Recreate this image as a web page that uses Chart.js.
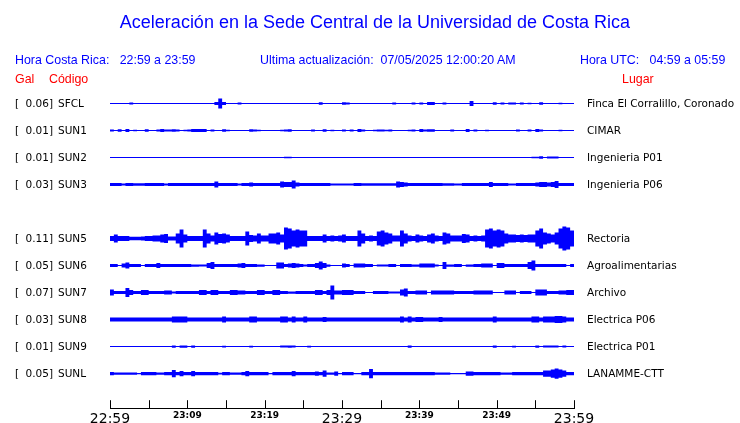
<!DOCTYPE html>
<html>
<head>
<meta charset="utf-8">
<script src="https://cdn.jsdelivr.net/npm/chart.js@4"></script>
<style>
  body { margin: 0; background: #fff; }
  #wrap { position: relative; width: 740px; height: 423px; overflow: hidden; }
  canvas { position: absolute; left: 0; top: 0; }
  .t { position: absolute; white-space: pre; font-family: "Liberation Sans", Arial, sans-serif; line-height: 1; }
  .blue { color: #0000ff; }
  .red { color: #ff0000; }
</style>
</head>
<body>
<div id="wrap">
  <canvas id="chart" width="740" height="423"></canvas>
  <div class="t blue" style="left:5px;width:740px;text-align:center;top:13px;font-size:18px;">Aceleración en la Sede Central de la Universidad de Costa Rica</div>
  <div class="t blue" style="left:15px;top:54px;font-size:12.4px;">Hora Costa Rica:   22:59 a 23:59</div>
  <div class="t blue" style="left:260px;top:54px;font-size:12.4px;">Ultima actualización:  07/05/2025 12:00:20 AM</div>
  <div class="t blue" style="left:580px;top:54px;font-size:12.4px;">Hora UTC:   04:59 a 05:59</div>
  <div class="t red" style="left:15px;top:73px;font-size:12.4px;">Gal</div>
  <div class="t red" style="left:49px;top:73px;font-size:12.4px;">Código</div>
  <div class="t red" style="left:622px;top:73px;font-size:12.4px;">Lugar</div>
</div>
<script>
// one value per 30 s bin, half amplitude of the trace envelope
const binMinutes = 0.5;

const codes = ['SFCL', 'SUN1', 'SUN2', 'SUN3', 'SUN5', 'SUN6', 'SUN7', 'SUN8', 'SUN9', 'SUNL'];
const gal = ['0.06', '0.01', '0.01', '0.03', '0.11', '0.05', '0.07', '0.03', '0.01', '0.05'];
const places = ['Finca El Corralillo, Coronado', 'CIMAR', 'Ingenieria P01', 'Ingenieria P06', 'Rectoria',
  'Agroalimentarias', 'Archivo', 'Electrica P06', 'Electrica P01', 'LANAMME-CTT'];
const rows = [0, 1, 2, 3, 5, 6, 7, 8, 9, 10];

const xTickLabels = ['22:59', '', '23:09', '', '23:19', '', '23:29', '', '23:39', '', '23:49', '', '23:59'];
const majorTickLabels = ['22:59', '23:29', '23:59'];

const sfcl = [
  0, 0, 0, 0, 0, 1, 0, 0, 0, 0, 0, 0, 0, 0, 0, 0, 0, 0, 0, 0,
  0, 0, 0, 0, 0, 0, 0, 1.5, 5, 1.5, 0, 0, 0, 1, 0, 0, 0, 0, 0, 0,
  0, 0, 0, 0, 0, 0, 0, 0, 0, 0, 0, 0, 0, 0, 1.2, 0, 0, 0, 0, 0,
  1.2, 1, 0, 0, 0, 0, 0, 0, 0, 0, 0, 0, 0, 1, 0, 0, 0, 0, 1, 0,
  1, 0, 1.5, 1.5, 0, 0, 1, 0, 0, 0, 0, 0, 0, 2.5, 0, 0, 0, 0, 0, 1.2,
  0, 1, 0, 1, 1, 0, 1, 0, 0.8, 0, 0, 1.3, 0, 0, 0, 0, 0.8, 0, 0, 0
];
const sun1 = [
  1, 0, 1.2, 0, 1.5, 0, 0.8, 0, 0, 1.2, 0, 0, 1, 1.5, 1, 1, 1.2, 1, 0, 0.8,
  1, 1.5, 1.5, 1.5, 1.5, 0, 1, 0, 0, 1.2, 0.8, 0, 0, 0, 0, 0, 1.2, 1, 0.8, 0,
  0, 0, 0, 0, 0.8, 1, 1.2, 0, 0, 0, 0, 0, 1, 0, 0, 1.2, 0, 0.8, 0, 0,
  1, 0, 1, 0, 1.5, 1, 0, 0, 0.8, 1, 1, 0.8, 1, 0, 0, 0, 0, 0.8, 1, 0,
  1.5, 1, 1.2, 1.2, 0, 0, 0, 0, 1, 0, 0, 0, 1.5, 0, 1, 0, 0, 0.8, 0, 0,
  0, 0, 0, 0, 0, 1, 0, 0, 1, 0, 1.5, 1, 0, 0, 0, 0, 0.8, 0, 0, 0
];
const sun2 = [
  0, 0, 0, 0, 0, 0, 0, 0, 0, 0, 0, 0, 0, 0, 0, 0, 0, 0, 0, 0,
  0, 0, 0, 0, 0, 0, 0, 0, 0, 0, 0, 0, 0, 0, 0, 0, 0, 0, 0, 0,
  0, 0, 0, 0, 0, 0.8, 0.8, 0, 0, 0, 0, 0, 0, 0, 0, 0, 0, 0, 0, 0,
  0, 0, 0, 0, 0, 0, 0, 0, 0, 0, 0, 0, 0, 0, 0, 0, 0, 0, 0, 0,
  0, 0, 0, 0, 0, 0, 0, 0, 0, 0, 0, 0, 0, 0, 0, 0, 0, 0, 0, 0,
  0, 0, 0, 0, 0, 0, 0, 0, 0, 0.8, 0.8, 1.2, 0, 1, 1, 1, 0, 0, 0, 0
];
const sun3 = [
  1.5, 1.5, 1.5, 1, 1.5, 1.5, 1.2, 1.2, 1.2, 1.5, 1.5, 1.5, 1.5, 1.5, 1, 1.5, 1.5, 1.5, 1.5, 1.5,
  1.5, 1.5, 1.5, 1.5, 1.5, 1.5, 1.5, 3, 1.5, 1.5, 1.5, 1.5, 1.5, 1, 1.5, 1.5, 2, 1.5, 1.5, 1.5,
  1.5, 1.5, 1.5, 1.5, 3, 2.5, 2.5, 4, 2, 1.5, 1.5, 1.5, 1.5, 1.5, 1.5, 1.5, 1.5, 1, 1, 1,
  1, 1, 1, 1.5, 1.5, 1.2, 1.2, 1.2, 1.2, 1.2, 1.2, 1.2, 1.2, 1.2, 3, 2.5, 2, 1.5, 1.5, 1.5,
  1.5, 1.5, 1.5, 1.5, 1.5, 1.5, 1.2, 1.2, 1.2, 1, 1, 1.5, 1.5, 1.5, 1.5, 1.5, 1.5, 1.5, 2.5, 1.5,
  1.5, 1.5, 1.5, 1, 1, 1.5, 1.5, 1.5, 1.5, 1.5, 2, 2.5, 2.5, 2, 2.5, 3.5, 1.5, 1.5, 1.5, 1.5
];
const sun5 = [
  2.5, 4, 2.5, 2.5, 2.5, 1.8, 1.8, 1.8, 2, 2.5, 2.5, 3, 3, 4, 4.5, 2, 2, 5, 9, 4,
  2.5, 2.5, 2.5, 2.5, 9, 5, 3, 6, 4.5, 5, 4, 2.5, 2.5, 2.5, 2.5, 7, 3.5, 3, 5, 3,
  3, 5, 5, 6, 4, 11, 10, 8, 9, 8, 8, 2.5, 2.5, 2.5, 2.5, 4, 2.5, 3, 2.5, 3,
  4, 2.5, 2.5, 2.5, 8, 5, 2.5, 3, 2.5, 7, 8, 6, 5, 3, 3, 8, 5, 3, 2.5, 4,
  3, 2.5, 4, 5, 3, 2.5, 6, 5, 3, 3, 3, 4.5, 4, 2.5, 3, 2.5, 3, 9, 10, 8,
  9, 8, 5, 4, 4, 3.5, 4, 3.5, 4, 4, 8, 10, 6, 5, 4, 6, 10, 12, 11, 8
];
const sun6 = [
  1.5, 1.5, 0, 2, 3, 1.5, 1.5, 1.5, 0, 1.5, 1.5, 1.5, 2.5, 1.5, 1.5, 1.5, 1.5, 1.5, 1.5, 1.5,
  1.5, 1.2, 1.2, 1, 1, 2.5, 3.5, 1.5, 1.5, 1.5, 1.5, 1.5, 1.5, 2, 2.5, 1.5, 1.5, 1.5, 1.2, 1.2,
  0, 0, 0, 3, 3, 1.5, 2, 2.5, 2, 1.5, 1, 1.5, 1.5, 2.5, 4, 2.5, 1.2, 0, 0, 0,
  2, 1.5, 0, 2, 2, 2, 1.5, 1.5, 0, 1, 1, 1, 1.5, 1.5, 0, 1.5, 1.5, 1.5, 1.2, 1.2,
  2, 2, 2, 2, 1, 0, 3.5, 1.2, 1.2, 1.5, 1.5, 0, 1.2, 1.2, 1.5, 1.5, 2, 2, 2, 0,
  2.5, 2.5, 1.5, 1.5, 1.5, 1.5, 1.5, 1.5, 3.5, 5, 1.5, 1.5, 1.5, 1.5, 1.5, 1.5, 1.5, 1.5, 0, 1.5
];
const sun7 = [
  3, 1.5, 1.5, 1.5, 4.5, 2.5, 1.5, 1.5, 2.5, 2.5, 1.5, 1.5, 1.5, 1.5, 2, 2, 1, 1.5, 1.5, 1.5,
  1.5, 1.5, 1.5, 2.5, 2.5, 1.5, 2.5, 2.5, 1.5, 1.5, 1.5, 2.5, 2.5, 2, 2, 1.5, 1.5, 1.5, 2.5, 2.5,
  1.5, 1.5, 2.5, 2.5, 1.5, 1.5, 1.2, 1.2, 1.5, 1.5, 1.5, 1.5, 1.5, 2.5, 2.5, 1.5, 2.5, 7, 2, 2,
  2.5, 2.5, 2.5, 1.5, 1.5, 1.5, 0, 0, 1.5, 1.5, 1.5, 1.5, 1, 1, 1, 3, 4, 1.5, 1.5, 2,
  2, 2, 0, 2, 2, 2, 2, 2, 2, 1.5, 1.5, 1.5, 1.5, 1.5, 2, 2, 2, 2, 2, 0,
  0, 0, 2, 2, 2, 0, 1.5, 1.5, 1.5, 0, 3, 3, 3, 1.5, 1.5, 1.5, 2, 2, 2.5, 2.5
];
const sun8 = [
  2, 2, 2, 2, 2, 2, 2, 2, 2, 2, 2, 2, 2, 2, 2, 2, 3, 3, 3, 3,
  2, 2, 2, 2, 2, 2, 2, 2, 2, 3, 2, 2, 2, 2, 2, 2, 3, 3, 2, 2,
  2, 2, 2, 2, 3, 3, 2, 3, 2, 2, 3, 2, 2, 2, 2, 2.5, 2, 2, 2, 2,
  2, 2, 2, 2, 2, 2, 2, 2, 2, 2, 2, 2, 2, 2, 2, 3, 2, 3, 2, 2.5,
  2.5, 2, 2, 2, 2, 2.5, 2, 2, 2, 2, 2, 2, 2, 2, 2, 2, 2, 2, 2, 3,
  2, 2, 2, 2, 2, 2, 2, 2, 2, 3, 3, 2, 3, 3, 3, 3.5, 3.5, 3, 2, 2
];
const sun9 = [
  0, 0, 0, 0, 0, 0, 0, 0, 0, 0, 0, 0, 0, 0, 0, 0, 1.2, 0, 1.2, 1.2,
  0, 1.2, 0, 0, 0, 0, 0, 0, 0, 0.8, 0, 0, 0, 0, 0, 0, 0.8, 0, 0, 0,
  0, 0, 0, 0, 1, 1, 1.2, 1, 0, 0, 0, 0.8, 0, 0, 0, 0, 0, 0, 0, 0,
  0, 0, 0, 0, 0, 0, 0, 0, 0, 0, 0, 0, 0, 0, 0, 0, 0, 1.2, 0, 0,
  0, 0, 0, 0, 0, 0, 0, 0, 0, 0, 0, 0, 0, 0, 0, 0, 0, 0, 0, 1.2,
  0, 0, 0, 0, 0.8, 0, 0, 0, 0, 0, 1.2, 0, 1, 1, 1, 1, 0, 1, 0, 0
];
const sunl = [
  1.5, 1.2, 1.2, 1.2, 1.2, 1.2, 1.2, 0, 1.5, 1.5, 1.5, 1.5, 1.2, 1.2, 1.5, 1.5, 3.5, 1.5, 2.5, 1.5,
  1.5, 2.5, 1.5, 1.5, 1.5, 1.5, 1.5, 1.5, 0.8, 1.5, 1.5, 1.2, 1.2, 1.2, 1.5, 2.5, 1.5, 1.5, 1.5, 1.5,
  1.5, 0, 1.5, 1.5, 1.5, 1.5, 1.5, 2.5, 1.5, 1.5, 1.5, 1.5, 1.5, 2, 1.5, 3, 1.2, 1.2, 2, 0,
  1.5, 1.5, 1.5, 0, 0, 1.5, 1.5, 4.5, 1.5, 1.5, 1.5, 1.5, 1.5, 1.5, 1.5, 1.5, 1.5, 1.5, 1.5, 1.5,
  1.5, 1.5, 1.5, 1.5, 1.2, 1.2, 1.2, 1.2, 0, 0, 0, 0, 2, 2, 1.5, 1.5, 1.5, 1.5, 1.5, 1.5,
  1.5, 1.2, 1.2, 1.2, 1.5, 1.5, 1.5, 1.5, 1.5, 1.5, 1.5, 1.5, 3, 3, 4, 5, 4, 3, 1.5, 1.5
];

const traces = [sfcl, sun1, sun2, sun3, sun5, sun6, sun7, sun8, sun9, sunl];
const gain = 27; // amplitude units per trace row
const traceColor = '#0000ff';

function envelope(values, row, sign) {
  const pts = values.map((a, i) => ({ x: i * binMinutes, y: row + sign * Math.max(a, 0.5) / gain }));
  pts.push({ x: values.length * binMinutes, y: pts[pts.length - 1].y });
  return pts;
}

const datasets = [];
traces.forEach((values, s) => {
  datasets.push({ data: envelope(values, rows[s], -1), borderColor: 'rgba(0,0,0,0)', borderWidth: 0, stepped: true, fill: false });
  datasets.push({ data: envelope(values, rows[s], 1), borderColor: 'rgba(0,0,0,0)', borderWidth: 0, stepped: true,
    fill: '-1', backgroundColor: traceColor });
});

const decor = {
  id: 'decor',
  afterDraw(chart) {
    const { ctx, chartArea, scales: { x, y } } = chart;
    ctx.save();
    ctx.strokeStyle = '#000';
    ctx.lineWidth = 1;
    x.ticks.forEach(t => {
      const px = Math.round(x.getPixelForValue(t.value)) + 0.5;
      ctx.beginPath();
      ctx.moveTo(px, chartArea.bottom);
      ctx.lineTo(px, chartArea.bottom - 8);
      ctx.stroke();
    });
    ctx.font = '10.5px "DejaVu Sans"';
    ctx.fillStyle = '#000';
    ctx.textBaseline = 'middle';
    codes.forEach((code, s) => {
      const py = y.getPixelForValue(rows[s]) + 1;
      ctx.textAlign = 'left';
      ctx.fillText('[', 15, py);
      ctx.fillText(code, 58, py);
      ctx.fillText(places[s], 587, py);
      ctx.textAlign = 'right';
      ctx.fillText(gal[s] + ']', 53, py);
    });
    ctx.restore();
  }
};

new Chart(document.getElementById('chart'), {
  type: 'line',
  data: { datasets },
  options: {
    responsive: false,
    animation: false,
    devicePixelRatio: 1,
    layout: { padding: { left: 110, right: 166, top: 90, bottom: -8 } },
    elements: { point: { radius: 0 } },
    plugins: { legend: { display: false }, tooltip: { enabled: false } },
    scales: {
      x: {
        type: 'linear',
        min: 0,
        max: 60,
        grid: { display: false, drawTicks: false },
        border: { display: true, color: '#000', width: 1 },
        ticks: {
          stepSize: 5,
          autoSkip: false,
          maxRotation: 0,
          padding: 3,
          color: '#000',
          font: c => {
            const label = xTickLabels[c.index] || '';
            return majorTickLabels.includes(label)
              ? { family: 'DejaVu Sans', size: 14, lineHeight: 1.2 }
              : { family: 'DejaVu Sans', size: 9, weight: 'bold', lineHeight: 8 / 9 };
          },
          callback: (v, i) => xTickLabels[i]
        }
      },
      y: { display: false, reverse: true, min: -0.5, max: 11.28 }
    }
  },
  plugins: [decor]
});
</script>
</body>
</html>
